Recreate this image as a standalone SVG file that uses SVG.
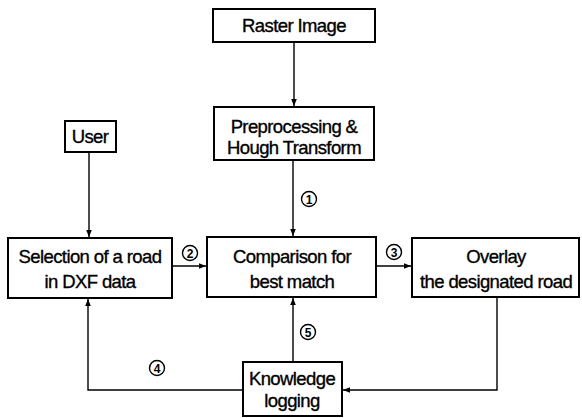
<svg xmlns="http://www.w3.org/2000/svg" width="582" height="418" viewBox="0 0 582 418">
<style>
.box{fill:#fff;stroke:#000;stroke-width:2}
.t{font-family:"Liberation Sans",Arial,sans-serif;font-size:18.5px;fill:#000;stroke:#000;stroke-width:0.35;text-anchor:middle;letter-spacing:-0.6px}
.ln{fill:none;stroke:#000;stroke-width:1.4}
.c{fill:none;stroke:#000;stroke-width:1.4}
.n{font-family:"Liberation Sans",Arial,sans-serif;font-size:12px;font-weight:bold;text-anchor:middle;fill:#000}
</style>
<defs>
<marker id="ah" viewBox="0 0 10 10" refX="10" refY="5" markerWidth="7" markerHeight="7" markerUnits="userSpaceOnUse" orient="auto">
<path d="M0,1 L10,5 L0,9 Z" fill="#000"/>
</marker>
</defs>
<rect width="582" height="418" fill="#fff"/>
<g id="connectors">
<path class="ln" d="M294,42 V106" marker-end="url(#ah)"/>
<path class="ln" d="M89,152 V237" marker-end="url(#ah)"/>
<path class="ln" d="M293,160 V236" marker-end="url(#ah)"/>
<path class="ln" d="M172,266 H206" marker-end="url(#ah)"/>
<path class="ln" d="M376,266 H411" marker-end="url(#ah)"/>
<path class="ln" d="M293,362 V298" marker-end="url(#ah)"/>
<path class="ln" d="M243,390 H88 V299" marker-end="url(#ah)"/>
<path class="ln" d="M497,297 V390 H343" marker-end="url(#ah)"/>
</g>
<g id="label1"><circle class="c" cx="309" cy="199" r="7.5"/><text class="n" x="309" y="203.5">1</text></g>
<g id="label2"><circle class="c" cx="190" cy="253" r="7.5"/><text class="n" x="190" y="257.5">2</text></g>
<g id="label3"><circle class="c" cx="394" cy="252" r="7.5"/><text class="n" x="394" y="256.5">3</text></g>
<g id="label4"><circle class="c" cx="157" cy="368" r="7.5"/><text class="n" x="157" y="372.5">4</text></g>
<g id="label5"><circle class="c" cx="308" cy="332" r="7.5"/><text class="n" x="308" y="336.5">5</text></g>
<g id="raster"><rect class="box" x="213" y="9" width="162" height="33"/><text class="t" x="294" y="32">Raster Image</text></g>
<g id="preproc"><rect class="box" x="214" y="107" width="160" height="53"/><text class="t" x="294" y="133">Preprocessing &amp;</text><text class="t" x="294" y="154">Hough Transform</text></g>
<g id="user"><rect class="box" x="65" y="121" width="51" height="31"/><text class="t" x="90" y="143">User</text></g>
<g id="selection"><rect class="box" x="8" y="238" width="164" height="60"/><text class="t" x="90" y="263">Selection of a road</text><text class="t" x="90" y="288">in DXF data</text></g>
<g id="comparison"><rect class="box" x="207" y="237" width="169" height="60"/><text class="t" x="292" y="263">Comparison for</text><text class="t" x="292" y="288">best match</text></g>
<g id="overlay"><rect class="box" x="412" y="238" width="167" height="59"/><text class="t" x="496" y="263">Overlay</text><text class="t" x="496" y="288">the designated road</text></g>
<g id="knowledge"><rect class="box" x="243" y="362" width="99" height="54"/><text class="t" x="292" y="385">Knowledge</text><text class="t" x="292" y="407">logging</text></g>
</svg>
